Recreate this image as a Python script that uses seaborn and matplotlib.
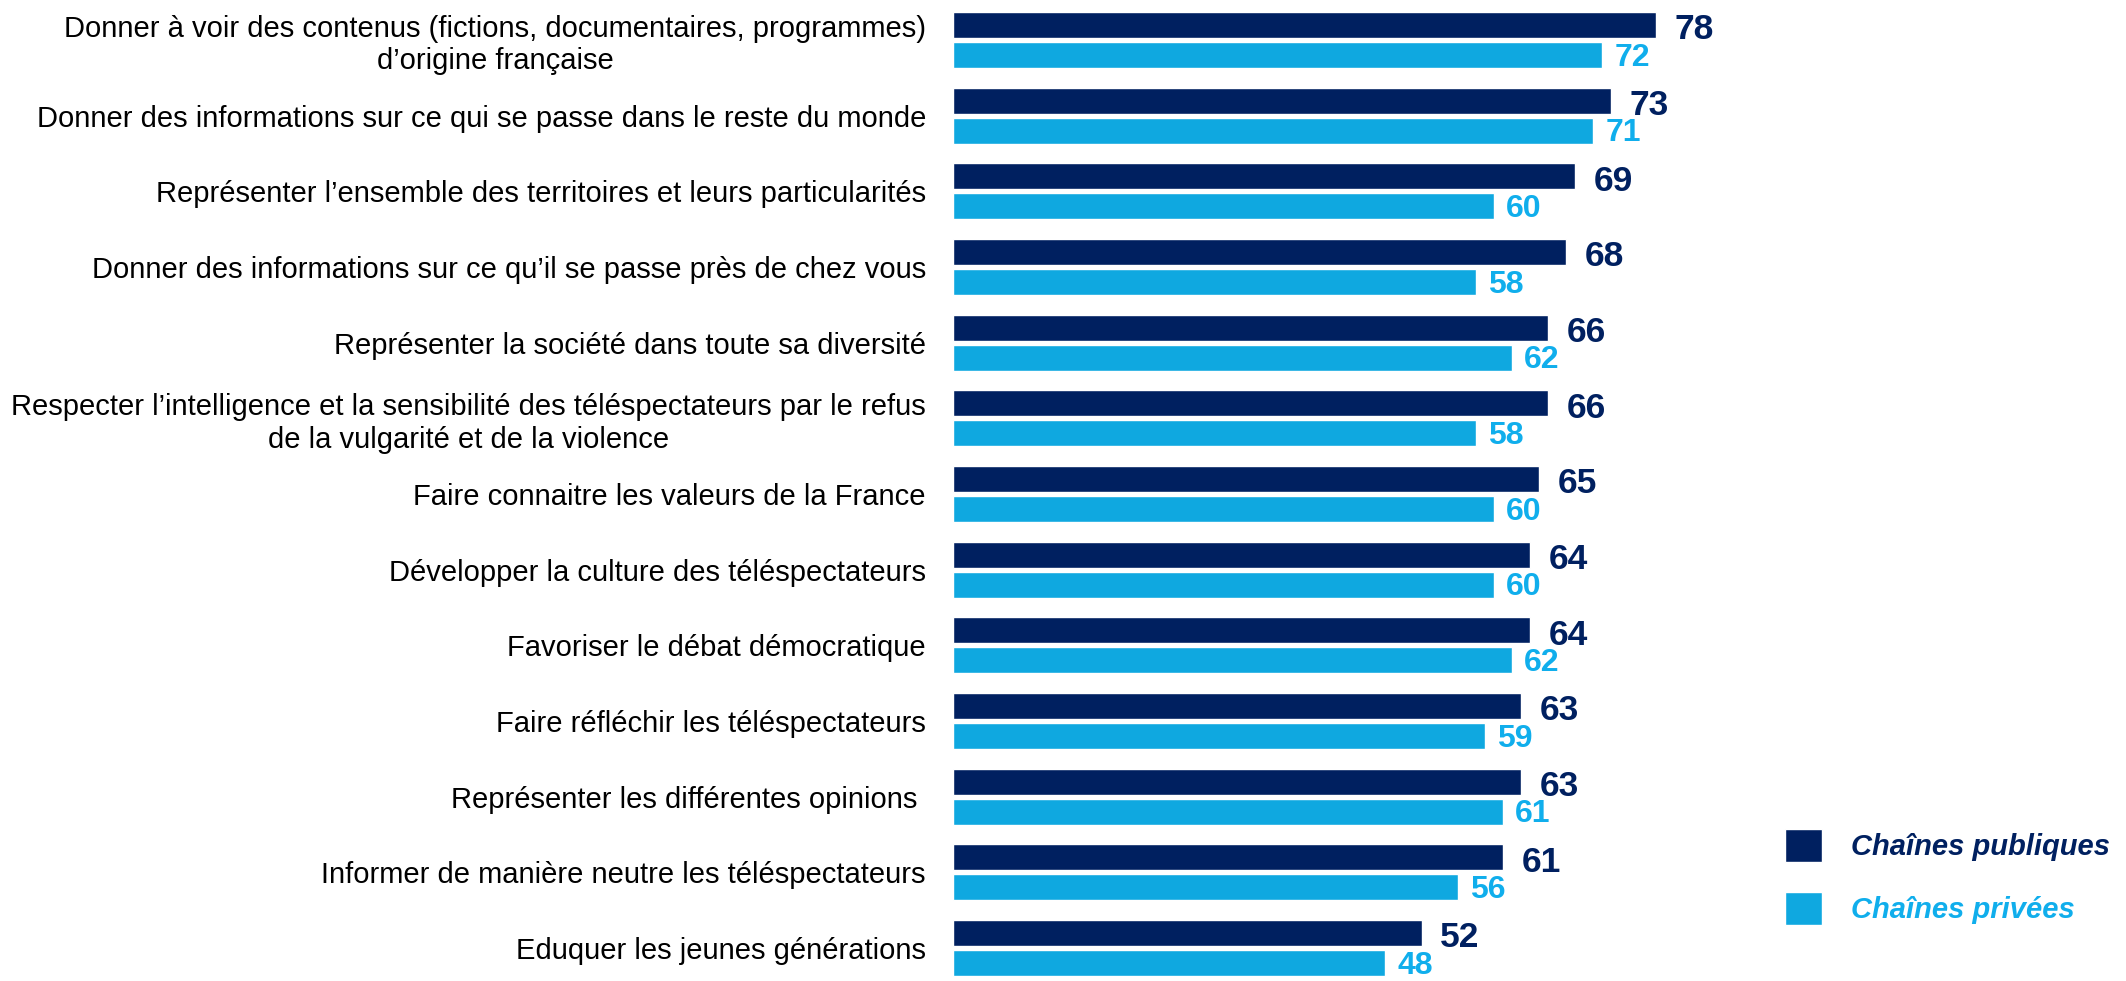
import matplotlib
matplotlib.use("Agg")
import matplotlib.pyplot as plt
import seaborn as sns
import pandas as pd

categories = [
    "Donner à voir des contenus (fictions, documentaires, programmes)\nd’origine française",
    "Donner des informations sur ce qui se passe dans le reste du monde",
    "Représenter l’ensemble des territoires et leurs particularités",
    "Donner des informations sur ce qu’il se passe près de chez vous",
    "Représenter la société dans toute sa diversité",
    "Respecter l’intelligence et la sensibilité des téléspectateurs par le refus\nde la vulgarité et de la violence",
    "Faire connaitre les valeurs de la France",
    "Développer la culture des téléspectateurs",
    "Favoriser le débat démocratique",
    "Faire réfléchir les téléspectateurs",
    "Représenter les différentes opinions ",
    "Informer de manière neutre les téléspectateurs",
    "Eduquer les jeunes générations",
]
publiques = [78, 73, 69, 68, 66, 66, 65, 64, 64, 63, 63, 61, 52]
privees = [72, 71, 60, 58, 62, 58, 60, 60, 62, 59, 61, 56, 48]
series = ["Chaînes publiques", "Chaînes privées"]

DARK = "#002060"
LIGHT = "#0FA8E0"
LIGHT_TXT = "#10AEEC"

df = pd.DataFrame({
    "cat": categories * 2,
    "val": publiques + privees,
    "serie": [series[0]] * len(categories) + [series[1]] * len(categories),
})

sns.set_style("white")
plt.rcParams["font.family"] = ["Liberation Sans", "DejaVu Sans"]

W, H = 2126, 981
fig = plt.figure(figsize=(W / 100, H / 100), dpi=100)
x0 = 953
pxu = 9.01
xmax = 80
pitch = 75.67
top_c = 40
ax_top = top_c - 0.5 * pitch
ax_h = 13 * pitch
ax = fig.add_axes([x0 / W, 1 - (ax_top + ax_h) / H, xmax * pxu / W, ax_h / H])

sns.barplot(data=df, y="cat", x="val", hue="serie", hue_order=series,
            palette=[DARK, LIGHT], saturation=1, width=0.79, gap=0.13,
            orient="h", ax=ax, legend=True)

ax.set_xlim(0, xmax)
ax.set_ylim(12.5, -0.5)
ax.set_xlabel("")
ax.set_ylabel("")
ax.set_xticks([])
for s in ax.spines.values():
    s.set_visible(False)
ax.tick_params(axis="y", length=0, pad=19.5, labelsize=21, labelcolor="black")
for t in ax.get_yticklabels():
    t.set_multialignment("center")

dark_lbls = ax.bar_label(ax.containers[0], padding=13.5, fontsize=25.5,
                         fontweight="bold", color=DARK)
for a in dark_lbls:
    a.xyann = (a.xyann[0], -3.5)
light_lbls = ax.bar_label(ax.containers[1], padding=9, fontsize=23,
                          fontweight="bold", color=LIGHT_TXT)
for a in light_lbls:
    a.xyann = (a.xyann[0], -2.0)

handles, labels = ax.get_legend_handles_labels()
ax.get_legend().remove()
leg = fig.legend(handles, labels, loc="upper left",
                 bbox_to_anchor=(1785 / W, 1 - 828.5 / H),
                 frameon=False, borderpad=0, borderaxespad=0,
                 prop={"size": 21, "weight": "bold", "style": "italic"},
                 handlelength=1.27, handleheight=1.364, handletextpad=1.0,
                 labelspacing=1.05)
for txt, c in zip(leg.get_texts(), [DARK, LIGHT_TXT]):
    txt.set_color(c)

fig.savefig("out.png", dpi=100)
